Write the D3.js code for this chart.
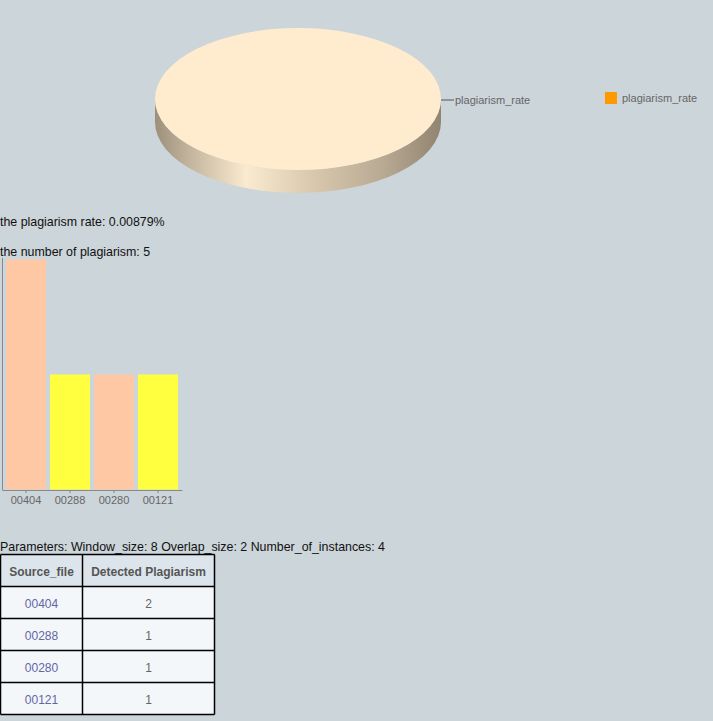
<!DOCTYPE html>
<html>
<head>
<meta charset="utf-8">
<script src="https://cdn.jsdelivr.net/npm/d3@7"></script>
<style>
  html, body { margin: 0; padding: 0; background: #ccd5da; }
  svg { display: block; font-family: Arial, "Liberation Sans", sans-serif; }
</style>
</head>
<body>
<script>
// ---- data ----
const pieLabels = ["plagiarism_rate"];
const pieValues = [0.00879];
const legendColors = ["#ff9900"];
const plagiarismRate = "0.00879%";
const plagiarismCount = 5;
const sourceFiles = ["00404", "00288", "00280", "00121"];
const detectedCounts = [2, 1, 1, 1];
const barColors = ["#ffc8a5", "#ffff40"];
const parameters = { Window_size: 8, Overlap_size: 2, Number_of_instances: 4 };
const tableHeaders = ["Source_file", "Detected Plagiarism"];

const W = 713, H = 721;
const svg = d3.select("body").append("svg").attr("width", W).attr("height", H);

// ---- 3D pie ----
const cx = 298, cy = 99, rx = 143, ry = 71, depth = 23;
const defs = svg.append("defs");
const grad = defs.append("linearGradient").attr("id", "sideGrad")
  .attr("x1", "0%").attr("x2", "100%").attr("y1", "0%").attr("y2", "0%");
[["0%", "#9d8f7b"], ["12%", "#c3b49d"], ["32%", "#f9ead0"], ["55%", "#d9c8ad"], ["80%", "#b8a993"], ["100%", "#918470"]]
  .forEach(([o, c]) => grad.append("stop").attr("offset", o).attr("stop-color", c));

const pie = d3.pie().sort(null)(pieValues);
const pieG = svg.append("g");
pie.forEach((d, i) => {
  pieG.append("path")
    .attr("d", `M${cx + rx},${cy} A${rx},${ry} 0 0 1 ${cx - rx},${cy} L${cx - rx},${cy + depth} A${rx},${ry} 0 0 0 ${cx + rx},${cy + depth} Z`)
    .attr("fill", "url(#sideGrad)");
  const arc = d3.arc().innerRadius(0).outerRadius(1);
  pieG.append("path")
    .attr("d", arc(d))
    .attr("transform", `translate(${cx},${cy}) scale(${rx},${ry})`)
    .attr("fill", "#ffebcd");
  const lx = cx + rx, ly = cy + 1;
  pieG.append("line").attr("x1", lx).attr("y1", ly).attr("x2", lx + 13).attr("y2", ly)
    .attr("stroke", "#555").attr("stroke-width", 1);
  pieG.append("text").attr("x", lx + 14).attr("y", ly + 4)
    .attr("font-size", 11).attr("fill", "#666").text(pieLabels[i]);
});

// legend
pieLabels.forEach((l, i) => {
  svg.append("rect").attr("x", 605).attr("y", 92 + i * 18).attr("width", 12).attr("height", 12)
    .attr("fill", legendColors[i]);
  svg.append("text").attr("x", 622).attr("y", 102 + i * 18).attr("font-size", 11)
    .attr("fill", "#666").text(l);
});

// ---- texts ----
svg.append("text").attr("x", 0).attr("y", 226).attr("font-size", 12.4).attr("fill", "#111")
  .text("the plagiarism rate: " + plagiarismRate);
svg.append("text").attr("x", 0).attr("y", 256).attr("font-size", 12.4).attr("fill", "#111")
  .text("the number of plagiarism: " + plagiarismCount);

// ---- bar chart ----
const x = d3.scaleBand().domain(sourceFiles).range([2, 182]).paddingInner(1 / 11).paddingOuter(1 / 11);
const y = d3.scaleLinear().domain([0, d3.max(detectedCounts)]).range([489.5, 259.5]);
const barG = svg.append("g");
barG.selectAll("rect").data(sourceFiles).join("rect")
  .attr("x", d => x(d)).attr("width", x.bandwidth())
  .attr("y", (d, i) => y(detectedCounts[i]))
  .attr("height", (d, i) => y(0) - y(detectedCounts[i]))
  .attr("fill", (d, i) => barColors[i % 2]);

const xAxis = svg.append("g").attr("transform", "translate(0,490)")
  .call(d3.axisBottom(x).tickSize(3).tickSizeOuter(0));
xAxis.select(".domain").attr("stroke", "#888");
xAxis.selectAll(".tick line").attr("stroke", "#888");
xAxis.selectAll(".tick text").attr("fill", "#666").attr("font-size", 11)
  .attr("font-family", "Arial, 'Liberation Sans', sans-serif").attr("dy", "0.9em").attr("y", 4);
svg.append("line").attr("x1", 2.5).attr("x2", 2.5).attr("y1", 258).attr("y2", 490)
  .attr("stroke", "#888");

// ---- parameters ----
svg.append("text").attr("x", 0).attr("y", 551).attr("font-size", 12.4).attr("fill", "#111")
  .text("Parameters: " + Object.entries(parameters).map(([k, v]) => `${k}: ${v}`).join(" "));

// ---- table ----
const tX = 0.5, tY = 554.5, colW = [82, 132], headH = 32, rowH = 32;
const tG = svg.append("g");
const totalW = colW[0] + colW[1];
tG.append("rect").attr("x", tX).attr("y", tY).attr("width", totalW).attr("height", headH)
  .attr("fill", "#dce5ec");
tG.append("rect").attr("x", tX).attr("y", tY + headH).attr("width", totalW).attr("height", rowH * sourceFiles.length)
  .attr("fill", "#f3f7fa");
tableHeaders.forEach((h, j) => {
  const cxp = tX + (j === 0 ? colW[0] / 2 : colW[0] + colW[1] / 2);
  tG.append("text").attr("x", cxp).attr("y", tY + 21).attr("text-anchor", "middle")
    .attr("font-size", 12).attr("font-weight", "bold").attr("fill", "#555").text(h);
});
sourceFiles.forEach((s, i) => {
  const ry0 = tY + headH + i * rowH;
  tG.append("text").attr("x", tX + colW[0] / 2).attr("y", ry0 + 21).attr("text-anchor", "middle")
    .attr("font-size", 12).attr("fill", "#6565a5").text(s);
  tG.append("text").attr("x", tX + colW[0] + colW[1] / 2).attr("y", ry0 + 21).attr("text-anchor", "middle")
    .attr("font-size", 12).attr("fill", "#666").text(detectedCounts[i]);
});
for (let i = 0; i <= sourceFiles.length + 1; i++) {
  const yy = tY + i * rowH;
  tG.append("line").attr("x1", tX).attr("x2", tX + totalW).attr("y1", yy).attr("y2", yy)
    .attr("stroke", "#000").attr("stroke-width", 1.5);
}
[0, colW[0], totalW].forEach(xx => {
  tG.append("line").attr("x1", tX + xx).attr("x2", tX + xx).attr("y1", tY)
    .attr("y2", tY + rowH * (sourceFiles.length + 1))
    .attr("stroke", "#000").attr("stroke-width", 1.5);
});
</script>
</body>
</html>
